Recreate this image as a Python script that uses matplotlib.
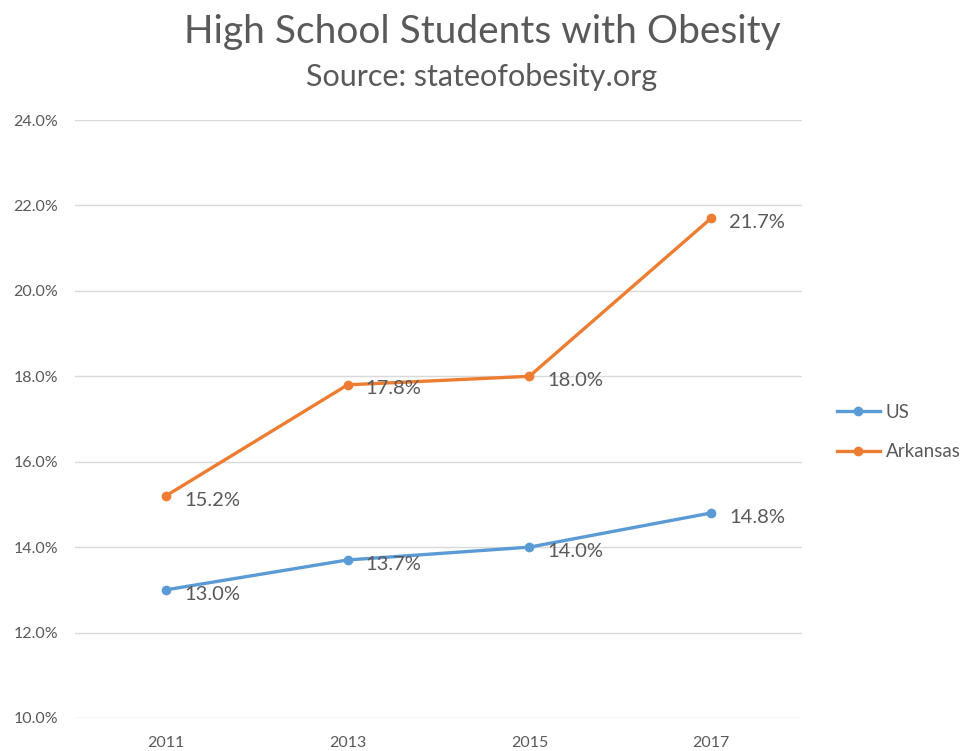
import matplotlib
matplotlib.use("Agg")
import matplotlib.pyplot as plt
from matplotlib.ticker import FuncFormatter

plt.rcParams['font.family'] = ['Lato', 'DejaVu Sans']

# Data
years = ["2011", "2013", "2015", "2017"]
us = [13.0, 13.7, 14.0, 14.8]
arkansas = [15.2, 17.8, 18.0, 21.7]

blue = "#5B9BD5"
orange = "#ED7D31"
text_gray = "#595959"

fig = plt.figure(figsize=(9.64, 7.51), dpi=100)
ax = fig.add_axes([75 / 964, 1 - 718 / 751, 727 / 964, 598 / 751])

x = range(len(years))
ax.plot(x, us, color=blue, linewidth=2.4, marker='o', markersize=6, label="US")
ax.plot(x, arkansas, color=orange, linewidth=2.4, marker='o', markersize=6, label="Arkansas")

# Data labels to the right of each point
for series in (us, arkansas):
    for i, v in enumerate(series):
        ax.annotate(f"{v:.1f}%", (i, v), xytext=(13, -3), textcoords="offset points",
                    ha="left", va="center", fontsize=14.5, color=text_gray)

ax.set_xlim(-0.5, 3.5)
ax.set_ylim(10, 24)
ax.set_yticks([10, 12, 14, 16, 18, 20, 22, 24])
ax.yaxis.set_major_formatter(FuncFormatter(lambda v, p: f"{v:.1f}%"))
ax.set_xticks(list(x))
ax.set_xticklabels(years)
ax.tick_params(axis='both', length=0, labelsize=11.5, labelcolor=text_gray)
ax.tick_params(axis='y', pad=12)
ax.tick_params(axis='x', pad=13)

ax.grid(axis='y', color="#D9D9D9", linewidth=1)
ax.set_axisbelow(True)
for s in ax.spines.values():
    s.set_visible(False)

fig.text(0.5, 0.958, "High School Students with Obesity", ha="center", va="center",
         fontsize=28, color=text_gray)
fig.text(0.5, 0.898, "Source: stateofobesity.org", ha="center", va="center",
         fontsize=22, color=text_gray)

ax.legend(loc="center left", bbox_to_anchor=(820 / 964, 1 - 432 / 751),
          bbox_transform=fig.transFigure, frameon=False, fontsize=13.5,
          labelcolor=text_gray, handlelength=2.3, handletextpad=0.3, labelspacing=1.2)

fig.savefig("out.png", dpi=100)
